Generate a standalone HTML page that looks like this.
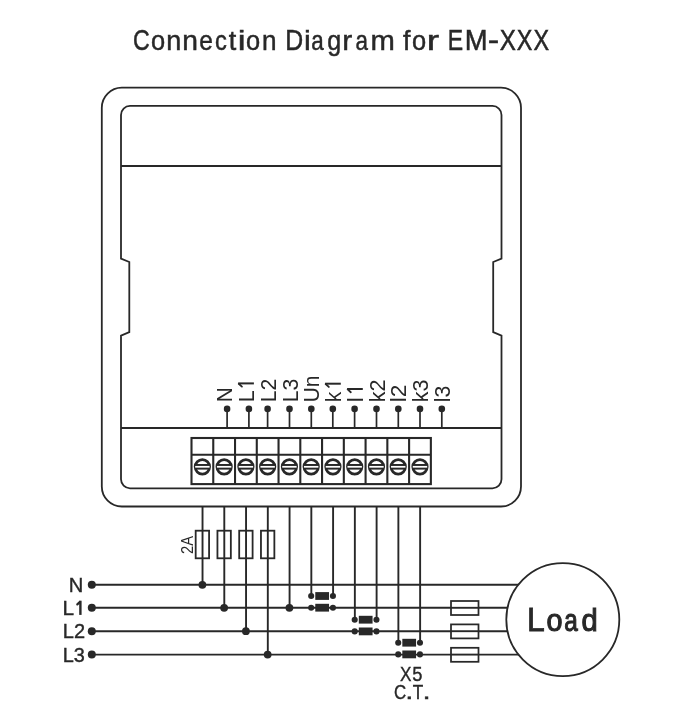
<!DOCTYPE html>
<html><head><meta charset="utf-8"><style>
html,body{margin:0;padding:0;background:#fff;}
svg{display:block;will-change:transform;}
text{font-family:"Liberation Sans",sans-serif;fill:#282828;}
</style></head><body>
<svg width="673" height="717" viewBox="0 0 673 717">
<rect x="101.8" y="87.7" width="419.2" height="418.8" rx="20" ry="20" fill="none" stroke="#282828" stroke-width="1.8"/>
<path d="M121.0,114.9 A9,9 0 0 1 130.0,105.9 L492.5,105.9 A9,9 0 0 1 501.5,114.9 L501.5,258.6 L493.2,262.0 L493.2,332.2 L501.5,335.6 L501.5,479.3 A9,9 0 0 1 492.5,488.3 L130.0,488.3 A9,9 0 0 1 121.0,479.3 L121.0,335.6 L129.3,332.2 L129.3,262.0 L121.0,258.6 Z" fill="none" stroke="#282828" stroke-width="1.8" stroke-linejoin="miter"/>
<line x1="121.0" y1="166" x2="501.5" y2="166" stroke="#282828" stroke-width="2"/>
<line x1="121.0" y1="428" x2="501.5" y2="428" stroke="#282828" stroke-width="2.1"/>
<rect x="191.5" y="438.0" width="239.36" height="46.1" fill="none" stroke="#282828" stroke-width="2.1"/>
<line x1="213.26" y1="438.0" x2="213.26" y2="484.1" stroke="#282828" stroke-width="2.1"/>
<line x1="235.02" y1="438.0" x2="235.02" y2="484.1" stroke="#282828" stroke-width="2.1"/>
<line x1="256.78" y1="438.0" x2="256.78" y2="484.1" stroke="#282828" stroke-width="2.1"/>
<line x1="278.54" y1="438.0" x2="278.54" y2="484.1" stroke="#282828" stroke-width="2.1"/>
<line x1="300.30" y1="438.0" x2="300.30" y2="484.1" stroke="#282828" stroke-width="2.1"/>
<line x1="322.06" y1="438.0" x2="322.06" y2="484.1" stroke="#282828" stroke-width="2.1"/>
<line x1="343.82" y1="438.0" x2="343.82" y2="484.1" stroke="#282828" stroke-width="2.1"/>
<line x1="365.58" y1="438.0" x2="365.58" y2="484.1" stroke="#282828" stroke-width="2.1"/>
<line x1="387.34" y1="438.0" x2="387.34" y2="484.1" stroke="#282828" stroke-width="2.1"/>
<line x1="409.10" y1="438.0" x2="409.10" y2="484.1" stroke="#282828" stroke-width="2.1"/>
<line x1="191.5" y1="454.7" x2="430.86" y2="454.7" stroke="#282828" stroke-width="2.1"/>
<circle cx="202.38" cy="466.8" r="7.25" fill="none" stroke="#282828" stroke-width="2.7"/>
<rect x="195.88" y="464.0" width="13" height="5.6" fill="#282828"/>
<rect x="195.18" y="465.95" width="14.4" height="1.7" fill="#fff"/>
<circle cx="224.14" cy="466.8" r="7.25" fill="none" stroke="#282828" stroke-width="2.7"/>
<rect x="217.64" y="464.0" width="13" height="5.6" fill="#282828"/>
<rect x="216.94" y="465.95" width="14.4" height="1.7" fill="#fff"/>
<circle cx="245.90" cy="466.8" r="7.25" fill="none" stroke="#282828" stroke-width="2.7"/>
<rect x="239.40" y="464.0" width="13" height="5.6" fill="#282828"/>
<rect x="238.70" y="465.95" width="14.4" height="1.7" fill="#fff"/>
<circle cx="267.66" cy="466.8" r="7.25" fill="none" stroke="#282828" stroke-width="2.7"/>
<rect x="261.16" y="464.0" width="13" height="5.6" fill="#282828"/>
<rect x="260.46" y="465.95" width="14.4" height="1.7" fill="#fff"/>
<circle cx="289.42" cy="466.8" r="7.25" fill="none" stroke="#282828" stroke-width="2.7"/>
<rect x="282.92" y="464.0" width="13" height="5.6" fill="#282828"/>
<rect x="282.22" y="465.95" width="14.4" height="1.7" fill="#fff"/>
<circle cx="311.18" cy="466.8" r="7.25" fill="none" stroke="#282828" stroke-width="2.7"/>
<rect x="304.68" y="464.0" width="13" height="5.6" fill="#282828"/>
<rect x="303.98" y="465.95" width="14.4" height="1.7" fill="#fff"/>
<circle cx="332.94" cy="466.8" r="7.25" fill="none" stroke="#282828" stroke-width="2.7"/>
<rect x="326.44" y="464.0" width="13" height="5.6" fill="#282828"/>
<rect x="325.74" y="465.95" width="14.4" height="1.7" fill="#fff"/>
<circle cx="354.70" cy="466.8" r="7.25" fill="none" stroke="#282828" stroke-width="2.7"/>
<rect x="348.20" y="464.0" width="13" height="5.6" fill="#282828"/>
<rect x="347.50" y="465.95" width="14.4" height="1.7" fill="#fff"/>
<circle cx="376.46" cy="466.8" r="7.25" fill="none" stroke="#282828" stroke-width="2.7"/>
<rect x="369.96" y="464.0" width="13" height="5.6" fill="#282828"/>
<rect x="369.26" y="465.95" width="14.4" height="1.7" fill="#fff"/>
<circle cx="398.22" cy="466.8" r="7.25" fill="none" stroke="#282828" stroke-width="2.7"/>
<rect x="391.72" y="464.0" width="13" height="5.6" fill="#282828"/>
<rect x="391.02" y="465.95" width="14.4" height="1.7" fill="#fff"/>
<circle cx="419.98" cy="466.8" r="7.25" fill="none" stroke="#282828" stroke-width="2.7"/>
<rect x="413.48" y="464.0" width="13" height="5.6" fill="#282828"/>
<rect x="412.78" y="465.95" width="14.4" height="1.7" fill="#fff"/>
<line x1="227.1" y1="409" x2="227.1" y2="428" stroke="#282828" stroke-width="1.7"/>
<circle cx="227.1" cy="408.9" r="3.3" fill="#282828"/>
<line x1="248.9" y1="409" x2="248.9" y2="428" stroke="#282828" stroke-width="1.7"/>
<circle cx="248.9" cy="408.9" r="3.3" fill="#282828"/>
<line x1="267.6" y1="409" x2="267.6" y2="428" stroke="#282828" stroke-width="1.7"/>
<circle cx="267.6" cy="408.9" r="3.3" fill="#282828"/>
<line x1="289.5" y1="409" x2="289.5" y2="428" stroke="#282828" stroke-width="1.7"/>
<circle cx="289.5" cy="408.9" r="3.3" fill="#282828"/>
<line x1="311.3" y1="409" x2="311.3" y2="428" stroke="#282828" stroke-width="1.7"/>
<circle cx="311.3" cy="408.9" r="3.3" fill="#282828"/>
<line x1="332.8" y1="409" x2="332.8" y2="428" stroke="#282828" stroke-width="1.7"/>
<circle cx="332.8" cy="408.9" r="3.3" fill="#282828"/>
<line x1="354.6" y1="409" x2="354.6" y2="428" stroke="#282828" stroke-width="1.7"/>
<circle cx="354.6" cy="408.9" r="3.3" fill="#282828"/>
<line x1="376.5" y1="409" x2="376.5" y2="428" stroke="#282828" stroke-width="1.7"/>
<circle cx="376.5" cy="408.9" r="3.3" fill="#282828"/>
<line x1="398.3" y1="409" x2="398.3" y2="428" stroke="#282828" stroke-width="1.7"/>
<circle cx="398.3" cy="408.9" r="3.3" fill="#282828"/>
<line x1="420.0" y1="409" x2="420.0" y2="428" stroke="#282828" stroke-width="1.7"/>
<circle cx="420.0" cy="408.9" r="3.3" fill="#282828"/>
<line x1="441.8" y1="409" x2="441.8" y2="428" stroke="#282828" stroke-width="1.7"/>
<circle cx="441.8" cy="408.9" r="3.3" fill="#282828"/>
<text transform="translate(232.20,402.2) rotate(-90) scale(0.927,1)" font-size="22.5" class="p">N</text>
<text transform="translate(253.98,402.2) rotate(-90) scale(0.960,1)" font-size="22.5" class="p">L</text>
<line x1="238.20" y1="383.40" x2="253.90" y2="383.40" stroke="#282828" stroke-width="2.0"/>
<line x1="238.80" y1="383.80" x2="241.90" y2="386.60" stroke="#282828" stroke-width="1.9" stroke-linecap="round"/>
<text transform="translate(275.76,402.2) rotate(-90) scale(0.943,1)" font-size="22.5" class="p">L2</text>
<text transform="translate(297.54,402.2) rotate(-90) scale(0.943,1)" font-size="22.5" class="p">L3</text>
<text transform="translate(319.32,402.2) rotate(-90) scale(0.928,1)" font-size="22.5" class="p">Un</text>
<text transform="translate(341.10,402.2) rotate(-90) scale(0.940,1)" font-size="22.5" class="p">k</text>
<line x1="325.10" y1="383.70" x2="340.80" y2="383.70" stroke="#282828" stroke-width="2.0"/>
<line x1="325.70" y1="384.10" x2="328.80" y2="386.90" stroke="#282828" stroke-width="1.9" stroke-linecap="round"/>
<text transform="translate(362.88,402.2) rotate(-90) scale(1.000,1)" font-size="22.5" class="p">l</text>
<line x1="347.10" y1="389.00" x2="362.80" y2="389.00" stroke="#282828" stroke-width="2.0"/>
<line x1="347.70" y1="389.40" x2="350.80" y2="392.20" stroke="#282828" stroke-width="1.9" stroke-linecap="round"/>
<text transform="translate(384.66,402.2) rotate(-90) scale(0.957,1)" font-size="22.5" class="p">k2</text>
<text transform="translate(406.44,402.2) rotate(-90) scale(1.007,1)" font-size="22.5" class="p">l2</text>
<text transform="translate(428.22,402.2) rotate(-90) scale(0.957,1)" font-size="22.5" class="p">k3</text>
<text transform="translate(450.00,402.2) rotate(-90) scale(0.940,1)" font-size="22.5" class="p">l3</text>
<line x1="202.53" y1="506.6" x2="202.53" y2="584.8" stroke="#282828" stroke-width="1.9"/>
<line x1="224.29" y1="506.6" x2="224.29" y2="607.8" stroke="#282828" stroke-width="1.9"/>
<line x1="246.05" y1="506.6" x2="246.05" y2="631.2" stroke="#282828" stroke-width="1.9"/>
<line x1="267.81" y1="506.6" x2="267.81" y2="654.6" stroke="#282828" stroke-width="1.9"/>
<line x1="289.57" y1="506.6" x2="289.57" y2="607.8" stroke="#282828" stroke-width="1.9"/>
<line x1="311.33" y1="506.6" x2="311.33" y2="596" stroke="#282828" stroke-width="1.9"/>
<line x1="333.09" y1="506.6" x2="333.09" y2="596" stroke="#282828" stroke-width="1.9"/>
<line x1="354.85" y1="506.6" x2="354.85" y2="619.7" stroke="#282828" stroke-width="1.9"/>
<line x1="376.61" y1="506.6" x2="376.61" y2="619.7" stroke="#282828" stroke-width="1.9"/>
<line x1="398.37" y1="506.6" x2="398.37" y2="642.7" stroke="#282828" stroke-width="1.9"/>
<line x1="420.13" y1="506.6" x2="420.13" y2="642.7" stroke="#282828" stroke-width="1.9"/>
<rect x="195.68" y="530.7" width="13.4" height="27.6" fill="none" stroke="#282828" stroke-width="1.8"/>
<rect x="217.44" y="530.7" width="13.4" height="27.6" fill="none" stroke="#282828" stroke-width="1.8"/>
<rect x="239.20" y="530.7" width="13.4" height="27.6" fill="none" stroke="#282828" stroke-width="1.8"/>
<rect x="260.96" y="530.7" width="13.4" height="27.6" fill="none" stroke="#282828" stroke-width="1.8"/>
<circle cx="202.38" cy="584.8" r="3.9" fill="#282828"/>
<circle cx="224.14" cy="607.8" r="3.9" fill="#282828"/>
<circle cx="245.90" cy="631.2" r="3.9" fill="#282828"/>
<circle cx="267.66" cy="654.6" r="3.9" fill="#282828"/>
<circle cx="289.42" cy="607.8" r="3.9" fill="#282828"/>
<line x1="91.8" y1="584.8" x2="562" y2="584.8" stroke="#282828" stroke-width="1.9"/>
<circle cx="91.8" cy="584.8" r="4.0" fill="#282828"/>
<line x1="91.8" y1="607.8" x2="562" y2="607.8" stroke="#282828" stroke-width="1.9"/>
<circle cx="91.8" cy="607.8" r="4.0" fill="#282828"/>
<line x1="91.8" y1="631.2" x2="562" y2="631.2" stroke="#282828" stroke-width="1.9"/>
<circle cx="91.8" cy="631.2" r="4.0" fill="#282828"/>
<line x1="91.8" y1="654.6" x2="562" y2="654.6" stroke="#282828" stroke-width="1.9"/>
<circle cx="91.8" cy="654.6" r="4.0" fill="#282828"/>
<circle cx="311.18" cy="596.00" r="3.05" fill="#282828"/>
<circle cx="332.94" cy="596.00" r="3.05" fill="#282828"/>
<rect x="315.28" y="592.10" width="13.76" height="7.8" fill="#282828"/>
<circle cx="311.18" cy="607.70" r="3.05" fill="#282828"/>
<circle cx="332.94" cy="607.70" r="3.05" fill="#282828"/>
<rect x="315.28" y="603.80" width="13.76" height="7.8" fill="#282828"/>
<circle cx="354.70" cy="619.70" r="3.05" fill="#282828"/>
<circle cx="376.46" cy="619.70" r="3.05" fill="#282828"/>
<rect x="358.80" y="615.80" width="13.76" height="7.8" fill="#282828"/>
<circle cx="354.70" cy="631.40" r="3.05" fill="#282828"/>
<circle cx="376.46" cy="631.40" r="3.05" fill="#282828"/>
<rect x="358.80" y="627.50" width="13.76" height="7.8" fill="#282828"/>
<circle cx="398.22" cy="642.70" r="3.05" fill="#282828"/>
<circle cx="419.98" cy="642.70" r="3.05" fill="#282828"/>
<rect x="402.32" y="638.80" width="13.76" height="7.8" fill="#282828"/>
<circle cx="398.22" cy="654.40" r="3.05" fill="#282828"/>
<circle cx="419.98" cy="654.40" r="3.05" fill="#282828"/>
<rect x="402.32" y="650.50" width="13.76" height="7.8" fill="#282828"/>
<rect x="451.0" y="601.00" width="27.5" height="14.0" fill="#fff" stroke="#282828" stroke-width="1.75"/>
<line x1="451" y1="607.8" x2="478.5" y2="607.8" stroke="#282828" stroke-width="1.9"/>
<rect x="451.0" y="624.40" width="27.5" height="14.0" fill="#fff" stroke="#282828" stroke-width="1.75"/>
<line x1="451" y1="631.2" x2="478.5" y2="631.2" stroke="#282828" stroke-width="1.9"/>
<rect x="451.0" y="647.80" width="27.5" height="14.0" fill="#fff" stroke="#282828" stroke-width="1.75"/>
<line x1="451" y1="654.6" x2="478.5" y2="654.6" stroke="#282828" stroke-width="1.9"/>
<circle cx="562.8" cy="619.6" r="56.5" fill="#fff" stroke="#282828" stroke-width="1.8"/>
<text transform="translate(133.07,49.8) scale(0.803,1.0)" font-size="28.9" class="t" stroke="#282828" stroke-width="0.5">C</text>
<text transform="translate(150.98,49.8) scale(0.879,0.93)" font-size="28.9" class="t" stroke="#282828" stroke-width="0.5">o</text>
<text transform="translate(166.35,49.8) scale(0.937,0.93)" font-size="28.9" class="t" stroke="#282828" stroke-width="0.5">n</text>
<text transform="translate(182.37,49.8) scale(0.977,0.93)" font-size="28.9" class="t" stroke="#282828" stroke-width="0.5">n</text>
<text transform="translate(199.31,49.8) scale(0.848,0.93)" font-size="28.9" class="t" stroke="#282828" stroke-width="0.5">e</text>
<text transform="translate(214.95,49.8) scale(0.819,0.93)" font-size="28.9" class="t" stroke="#282828" stroke-width="0.5">c</text>
<text transform="translate(228.84,49.8) scale(0.935,0.93)" font-size="28.9" class="t" stroke="#282828" stroke-width="0.5">t</text>
<text transform="translate(237.69,49.8) scale(1.220,0.93)" font-size="28.9" class="t" stroke="#282828" stroke-width="0.5">i</text>
<text transform="translate(246.08,49.8) scale(0.879,0.93)" font-size="28.9" class="t" stroke="#282828" stroke-width="0.5">o</text>
<text transform="translate(261.91,49.8) scale(0.904,0.93)" font-size="28.9" class="t" stroke="#282828" stroke-width="0.5">n</text>
<text transform="translate(285.21,49.8) scale(0.859,1.0)" font-size="28.9" class="t" stroke="#282828" stroke-width="0.5">D</text>
<text transform="translate(303.89,49.8) scale(1.063,0.93)" font-size="28.9" class="t" stroke="#282828" stroke-width="0.5">i</text>
<text transform="translate(311.30,49.8) scale(0.775,0.93)" font-size="28.9" class="t" stroke="#282828" stroke-width="0.5">a</text>
<text transform="translate(327.19,49.8) scale(0.869,0.93)" font-size="28.9" class="t" stroke="#282828" stroke-width="0.5">g</text>
<text transform="translate(342.26,49.8) scale(1.038,0.93)" font-size="28.9" class="t" stroke="#282828" stroke-width="0.5">r</text>
<text transform="translate(355.40,49.8) scale(0.775,0.93)" font-size="28.9" class="t" stroke="#282828" stroke-width="0.5">a</text>
<text transform="translate(370.41,49.8) scale(1.012,0.93)" font-size="28.9" class="t" stroke="#282828" stroke-width="0.5">m</text>
<text transform="translate(402.97,49.8) scale(0.927,0.93)" font-size="28.9" class="t" stroke="#282828" stroke-width="0.5">f</text>
<text transform="translate(412.08,49.8) scale(0.879,0.93)" font-size="28.9" class="t" stroke="#282828" stroke-width="0.5">o</text>
<text transform="translate(426.78,49.8) scale(1.287,0.93)" font-size="28.9" class="t" stroke="#282828" stroke-width="0.5">r</text>
<text transform="translate(447.66,49.8) scale(0.798,1.0)" font-size="28.9" class="t" stroke="#282828" stroke-width="0.5">E</text>
<text transform="translate(464.71,49.8) scale(0.947,1.0)" font-size="28.9" class="t" stroke="#282828" stroke-width="0.5">M</text>
<text transform="translate(487.72,49.8) scale(1.191,1.0)" font-size="28.9" class="t" stroke="#282828" stroke-width="0.5">-</text>
<text transform="translate(499.71,49.8) scale(0.838,1.0)" font-size="28.9" class="t" stroke="#282828" stroke-width="0.5">X</text>
<text transform="translate(516.72,49.8) scale(0.810,1.0)" font-size="28.9" class="t" stroke="#282828" stroke-width="0.5">X</text>
<text transform="translate(533.62,49.8) scale(0.810,1.0)" font-size="28.9" class="t" stroke="#282828" stroke-width="0.5">X</text>
<text transform="translate(526.88,631.3) scale(0.946,1.0)" font-size="33.8" class="t" stroke="#282828" stroke-width="0.8">L</text>
<text transform="translate(546.39,631.3) scale(0.852,0.93)" font-size="33.8" class="t" stroke="#282828" stroke-width="1.2">o</text>
<text transform="translate(564.37,631.3) scale(0.720,0.93)" font-size="33.8" class="t" stroke="#282828" stroke-width="1.2">a</text>
<text transform="translate(581.38,631.3) scale(0.862,0.95)" font-size="33.8" class="t" stroke="#282828" stroke-width="1.2">d</text>
<text transform="translate(399.91,680.8) scale(0.821,1.0)" font-size="20.9" class="t" stroke="#282828" stroke-width="0.4">X</text>
<text transform="translate(412.37,680.8) scale(0.878,1.0)" font-size="20.9" class="t" stroke="#282828" stroke-width="0.4">5</text>
<text transform="translate(393.94,699.4) scale(0.808,1.0)" font-size="20.9" class="t" stroke="#282828" stroke-width="0.4">C</text>
<text transform="translate(405.21,699.4) scale(1.407,1.0)" font-size="20.9" class="t" stroke="#282828" stroke-width="0.4">.</text>
<text transform="translate(412.71,699.4) scale(0.821,1.0)" font-size="20.9" class="t" stroke="#282828" stroke-width="0.4">T</text>
<text transform="translate(422.51,699.4) scale(1.407,1.0)" font-size="20.9" class="t" stroke="#282828" stroke-width="0.4">.</text>
<text transform="translate(192.9,553.9) rotate(-90) scale(0.87,1)" font-size="17" class="p">2A</text>
<text transform="translate(68.84,591.9) scale(0.97,1)" font-size="20.8" class="t" stroke="#282828" stroke-width="0.4">N</text>
<text transform="translate(62.49,614.9) scale(1.0,1)" font-size="20.8" class="t" stroke="#282828" stroke-width="0.4">L</text>
<line x1="80.4" y1="600.7" x2="80.4" y2="614.9" stroke="#282828" stroke-width="2.4"/>
<line x1="80.0" y1="601.9" x2="77.3" y2="604.4" stroke="#282828" stroke-width="2.2" stroke-linecap="round"/>
<text transform="translate(62.76,638.4) scale(0.962,1)" font-size="20.8" class="t" stroke="#282828" stroke-width="0.4">L2</text>
<text transform="translate(62.77,661.8) scale(0.956,1)" font-size="20.8" class="t" stroke="#282828" stroke-width="0.4">L3</text>
</svg>
</body></html>
